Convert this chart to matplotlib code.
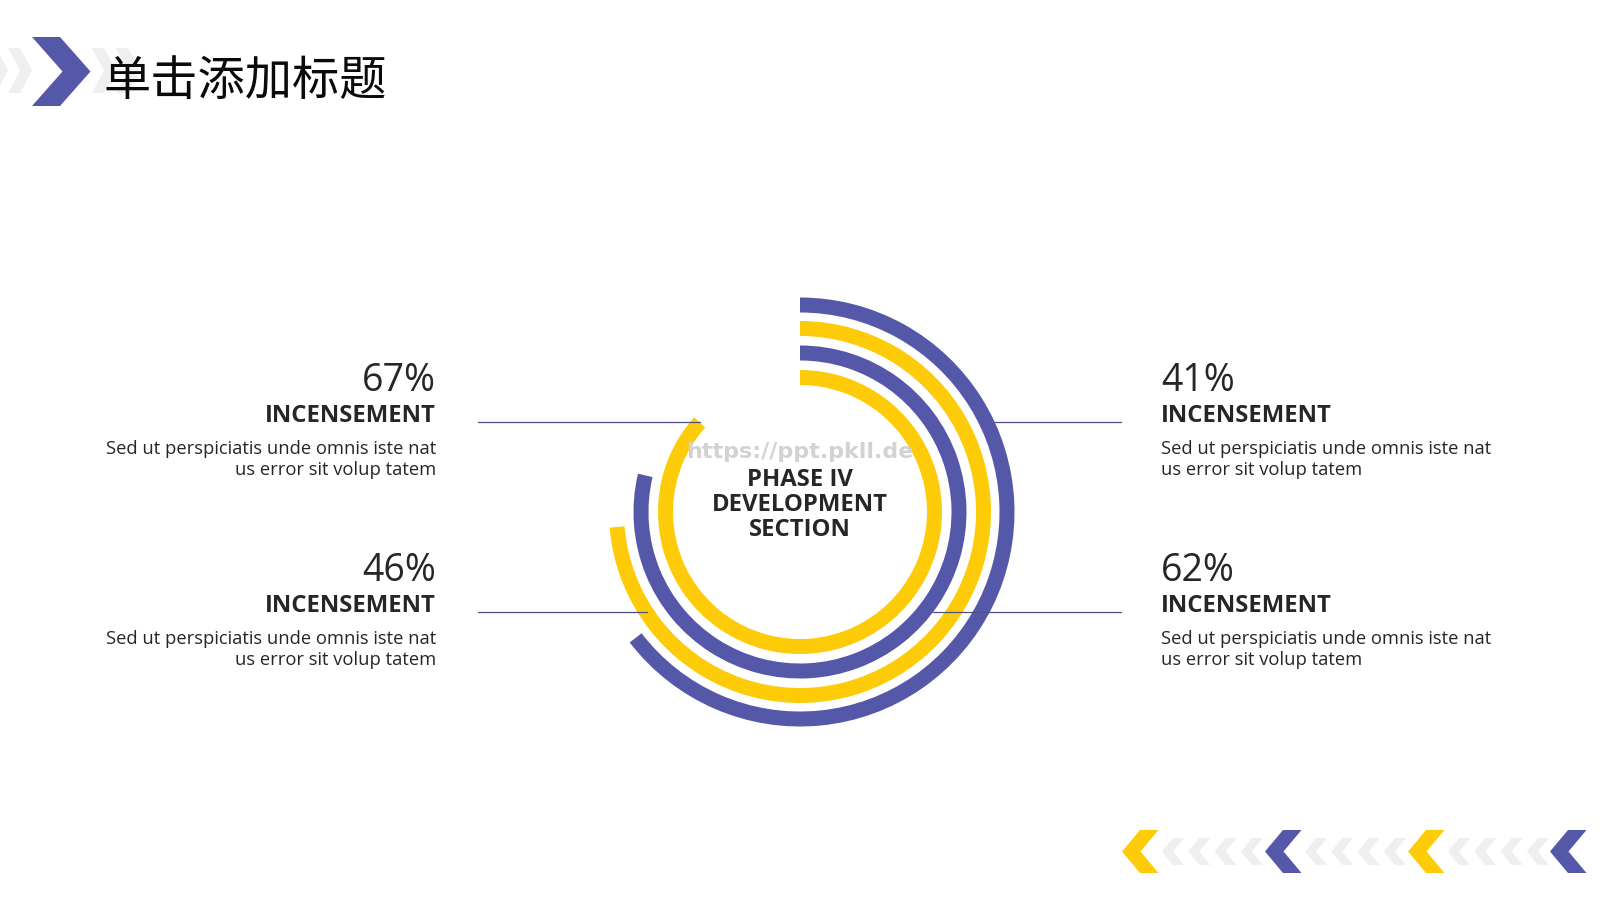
import numpy as np
import matplotlib
matplotlib.use("Agg")
import matplotlib.pyplot as plt
from matplotlib.patches import Polygon

# ---------------- data ----------------
title_text = "单击添加标题"
center_lines = ["PHASE IV", "DEVELOPMENT", "SECTION"]
percent_values = [67, 41, 46, 62]          # top-left, top-right, bottom-left, bottom-right
block_heading = ["INCENSEMENT", "INCENSEMENT", "INCENSEMENT", "INCENSEMENT"]
block_body = ["Sed ut perspiciatis unde omnis iste nat\nus error sit volup tatem"] * 4
# concentric arcs, outer -> inner, fraction of full circle swept clockwise from 12 o'clock
arc_fractions = [0.646, 0.737, 0.787, 0.866]
arc_radius_mid = [207, 183.5, 159, 134.5]
watermark = "https://ppt.pkll.de"

# ---------------- style ----------------
PURPLE = "#5558A8"
YELLOW = "#FDCB07"
GRAY = "#EFEFF2"
TEXT = "#262626"
LINE = "#4E5088"
arc_colors = [PURPLE, YELLOW, PURPLE, YELLOW]
BAND = 15

W, H = 1600, 900
fig = plt.figure(figsize=(16, 9), dpi=100)
fig.patch.set_facecolor("white")

# ---- polar axes for the arcs (center at 800, 512 px; 1 radial unit = 1 px)
cx, cy, R = 800, 512, 225
pax = fig.add_axes([(cx - R) / W, (H - cy - R) / H, 2 * R / W, 2 * R / H], projection="polar")
pax.set_theta_zero_location("N")
pax.set_theta_direction(-1)
pax.set_ylim(0, R)
pax.set_axis_off()
pax.patch.set_alpha(0)
for frac, rm, col in zip(arc_fractions, arc_radius_mid, arc_colors):
    pax.bar(0, BAND, width=frac * 2 * np.pi, bottom=rm - BAND / 2, align="edge",
            color=col, edgecolor="none", linewidth=0)

# ---- overlay axes in pixel coordinates
ax = fig.add_axes([0, 0, 1, 1], zorder=5)
ax.set_xlim(0, W)
ax.set_ylim(H, 0)
ax.set_axis_off()
ax.patch.set_alpha(0)


def chevron(xt, yc, h, d, t, right=True, color=PURPLE, z=2):
    s = 1 if right else -1
    xb = xt - s * d
    pts = [(xb, yc - h / 2), (xb + s * t, yc - h / 2), (xt, yc),
           (xb + s * t, yc + h / 2), (xb, yc + h / 2), (xt - s * t, yc)]
    ax.add_patch(Polygon(pts, closed=True, facecolor=color, edgecolor="none", zorder=z))


# title decorations
for xt in (8, 32):
    chevron(xt, 70.5, 45, 24, 12, True, GRAY, 1)
for xt in (116, 140):
    chevron(xt, 70.5, 45, 24, 12, True, GRAY, 1)
chevron(90.5, 71.5, 69, 58.5, 28, True, PURPLE, 2)
ax.text(104, 95, title_text, fontsize=34, color="#0a0a0a", ha="left", va="baseline",
        family=["Noto Sans CJK SC", "DejaVu Sans"], zorder=3)

# bottom-right decorations
big_tips = [1122, 1265, 1408, 1550]
big_cols = [YELLOW, PURPLE, YELLOW, PURPLE]
for i, (xt, col) in enumerate(zip(big_tips, big_cols)):
    chevron(xt, 851.5, 43, 36.5, 18.5, False, col, 2)
    if i < len(big_tips) - 1:
        for k in range(4):
            chevron(xt + 40 + 26.3 * k, 851.5, 27, 22, 11, False, GRAY, 1)

# connector lines
ax.plot([478, 700], [422.3, 422.3], color=LINE, lw=0.9, zorder=4)
ax.plot([478, 647], [612.3, 612.3], color=LINE, lw=0.9, zorder=4)
ax.plot([995, 1121], [422.3, 422.3], color=LINE, lw=0.9, zorder=4)
ax.plot([933, 1121], [612.3, 612.3], color=LINE, lw=0.9, zorder=4)

# text blocks
FONT = ["Open Sans", "DejaVu Sans"]
block_pos = [(436, "right", 0), (1161, "left", 0), (436, "right", 190), (1161, "left", 190)]
for (x, ha, dy), pv, hd, body in zip(block_pos, percent_values, block_heading, block_body):
    ax.text(x, 391 + dy, f"{pv}%", fontsize=27, color=TEXT, ha=ha, va="baseline", family=FONT)
    ax.text(x, 422 + dy, hd, fontsize=17.2, fontweight="bold", color=TEXT, ha=ha,
            va="baseline", family=FONT)
    for j, ln in enumerate(body.split("\n")):
        ax.text(x, 453.5 + dy + 21.5 * j, ln, fontsize=13.2, color=TEXT, ha=ha,
                va="baseline", family=FONT)

# center text
ax.text(800, 458, watermark, fontsize=16, fontweight="bold", color="#D2D2D6", ha="center",
        va="baseline", family=["DejaVu Sans"], zorder=3)
for j, ln in enumerate(center_lines):
    ax.text(800, 485.5 + 25.3 * j, ln, fontsize=17.2, fontweight="bold", color=TEXT,
            ha="center", va="baseline", family=FONT, zorder=4)

fig.savefig("out.png", dpi=100, facecolor=fig.get_facecolor())
